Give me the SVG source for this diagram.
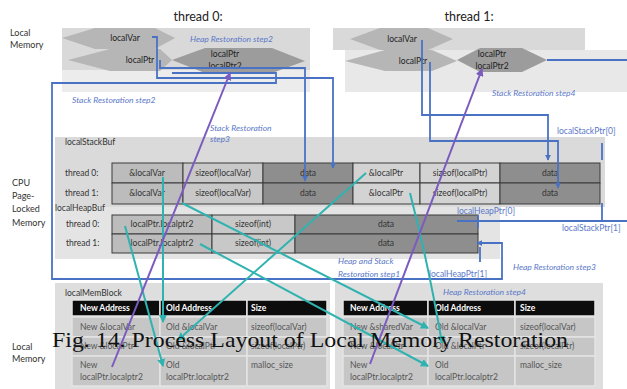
<svg xmlns="http://www.w3.org/2000/svg" width="627" height="389" viewBox="0 0 627 389">
  <defs>
    <marker id="arrowBlue" viewBox="0 0 8 8" refX="7" refY="4" markerWidth="6" markerHeight="6" markerUnits="userSpaceOnUse" orient="auto">
      <path d="M0,0 L8,4 L0,8 z" fill="#4a72c4"/>
    </marker>
    <marker id="arrowTeal" viewBox="0 0 8 8" refX="7" refY="4" markerWidth="8" markerHeight="8" markerUnits="userSpaceOnUse" orient="auto">
      <path d="M0,0 L8,4 L0,8 z" fill="#2fb3b0"/>
    </marker>
    <marker id="arrowPurple" viewBox="0 0 8 8" refX="7" refY="4" markerWidth="8" markerHeight="8" markerUnits="userSpaceOnUse" orient="auto">
      <path d="M0,0 L8,4 L0,8 z" fill="#7b5bbf"/>
    </marker>
  </defs>
  <style>
    text { font-family: Lato, "Open Sans", "Liberation Sans", sans-serif; }
    .side { font-size: 9px; fill: #333; }
    .thread { font-size: 12.5px; fill: #222; text-anchor: middle; }
    .lbl { font-size: 8.5px; fill: #333; }
    .cell { font-size: 8.5px; fill: #333; text-anchor: middle; }
    .step { font-size: 8.5px; fill: #5a78c8; font-style: italic; }
    .ptr { font-size: 8.5px; fill: #5a78c8; }
    .hex { fill: #b6b6b6; }
    .hexDark { fill: #9c9c9c; }
    .hexText { font-size: 8.5px; fill: #222; text-anchor: middle; }
    .c1 { fill: #bcbcbc; stroke: #3a3a3a; stroke-width: 1; }
    .c2 { fill: #c8c8c8; stroke: #3a3a3a; stroke-width: 1; }
    .c3 { fill: #8e8e8e; stroke: #3a3a3a; stroke-width: 1; }
    .c4 { fill: #d3d3d3; stroke: #3a3a3a; stroke-width: 1; }
    .head { fill: #0c0c0c; stroke: #e4e4e4; stroke-width: 1.5; }
    .mc { fill: #c6c6c6; stroke: #e4e4e4; stroke-width: 1.5; }
    .headText { font-size: 8.5px; fill: #fff; font-weight: bold; }
    .mText { font-size: 8.5px; fill: #555; }
    .blue { fill: none; stroke: #4a72c4; stroke-width: 1.8; }
    .teal { fill: none; stroke: #2fb3b0; stroke-width: 2; }
    .purple { fill: none; stroke: #7b5bbf; stroke-width: 2; }
    .caption { font-family: "Liberation Serif", "Times New Roman", serif; font-size: 22px; fill: #111; }
  </style>

  <rect width="627" height="389" fill="#ffffff"/>

  <!-- background panels -->
  <g id="panels">
    <rect x="62" y="28" width="248" height="42" fill="#d9d9d9"/>
    <rect x="62" y="70" width="248" height="22" fill="#ececec"/>
    <rect x="333" y="28" width="252" height="22" fill="#d9d9d9"/>
    <rect x="345" y="50" width="282" height="42" fill="#e8e8e8"/>
    <rect x="55" y="137" width="550" height="70" fill="#dadada"/>
    <rect x="55" y="207" width="445" height="52" fill="#e4e4e4"/>
    <rect x="55" y="283" width="275" height="106" fill="#dedede"/>
    <rect x="335" y="283" width="268" height="106" fill="#dedede"/>
  </g>

  <!-- side and thread titles -->
  <g id="titles">
    <text class="thread" x="198" y="21">thread 0:</text>
    <text class="thread" x="469" y="21">thread 1:</text>
    <text class="side" x="10" y="36">Local</text>
    <text class="side" x="10" y="48">Memory</text>
    <text class="side" x="12" y="186">CPU</text>
    <text class="side" x="12" y="199">Page-</text>
    <text class="side" x="12" y="212">Locked</text>
    <text class="side" x="12" y="226">Memory</text>
    <text class="side" x="12" y="350">Local</text>
    <text class="side" x="12" y="362">Memory</text>
  </g>

  <!-- thread 0 local variables -->
  <g id="t0-localVar">
    <polygon class="hex" points="62,38 95,28 155,28 175,38 155,49 95,49"/>
    <text class="hexText" x="125" y="41">localVar</text>
  </g>
  <g id="t0-localPtr">
    <polygon class="hex" points="68,60 110,49 160,49 172,60 160,71 110,71"/>
    <text class="hexText" x="140" y="63">localPtr</text>
  </g>
  <g id="t0-localPtr2">
    <polygon class="hexDark" points="172,60 205,48 272,48 305,61 272,73 205,73"/>
    <text class="hexText" x="225" y="57">localPtr</text>
    <text class="hexText" x="225" y="69">localPtr2</text>
  </g>

  <!-- thread 1 local variables -->
  <g id="t1-localVar">
    <polygon class="hex" points="350,39 380,28 428,28 453,39 428,50 380,50"/>
    <text class="hexText" x="402" y="42">localVar</text>
  </g>
  <g id="t1-localPtr">
    <polygon class="hex" points="345,61 385,50 432,50 457,61 432,71 385,71"/>
    <text class="hexText" x="413" y="64">localPtr</text>
  </g>
  <g id="t1-localPtr2">
    <polygon class="hexDark" points="457,60 480,48 522,48 547,60 522,72 480,72"/>
    <text class="hexText" x="492" y="57">localPtr</text>
    <text class="hexText" x="492" y="69">localPtr2</text>
  </g>

  <!-- stack buffer in page-locked memory -->
  <g id="localStackBuf">
    <text class="lbl" x="65" y="145">localStackBuf</text>
    <text class="lbl" x="65" y="176">thread 0:</text>
    <text class="lbl" x="65" y="196">thread 1:</text>
    <rect class="c1" x="112" y="163" width="71" height="20"/>
    <rect class="c2" x="183" y="163" width="80" height="20"/>
    <rect class="c3" x="263" y="163" width="90" height="20"/>
    <rect class="c4" x="353" y="163" width="67" height="20"/>
    <rect class="c4" x="420" y="163" width="80" height="20"/>
    <rect class="c3" x="500" y="163" width="100" height="20"/>
    <rect class="c1" x="112" y="183" width="71" height="21"/>
    <rect class="c2" x="183" y="183" width="80" height="21"/>
    <rect class="c3" x="263" y="183" width="90" height="21"/>
    <rect class="c4" x="353" y="183" width="67" height="21"/>
    <rect class="c4" x="420" y="183" width="80" height="21"/>
    <rect class="c3" x="500" y="183" width="100" height="21"/>
    <text class="cell" x="147" y="176">&amp;localVar</text>
    <text class="cell" x="223" y="176">sizeof(localVar)</text>
    <text class="cell" x="308" y="176">data</text>
    <text class="cell" x="386" y="176">&amp;localPtr</text>
    <text class="cell" x="460" y="176">sizeof(localPtr)</text>
    <text class="cell" x="550" y="176">data</text>
    <text class="cell" x="147" y="196">&amp;localVar</text>
    <text class="cell" x="223" y="196">sizeof(localVar)</text>
    <text class="cell" x="308" y="196">data</text>
    <text class="cell" x="386" y="196">&amp;localPtr</text>
    <text class="cell" x="460" y="196">sizeof(localPtr)</text>
    <text class="cell" x="550" y="196">data</text>
  </g>

  <!-- heap buffer in page-locked memory -->
  <g id="localHeapBuf">
    <text class="lbl" x="55" y="211">localHeapBuf</text>
    <text class="lbl" x="66" y="227">thread 0:</text>
    <text class="lbl" x="66" y="246">thread 1:</text>
    <rect class="c1" x="112" y="215" width="100" height="19"/>
    <rect class="c2" x="212" y="215" width="83" height="19"/>
    <rect class="c3" x="295" y="215" width="183" height="19"/>
    <rect class="c1" x="112" y="234" width="100" height="19"/>
    <rect class="c2" x="212" y="234" width="83" height="19"/>
    <rect class="c3" x="295" y="234" width="183" height="19"/>
    <text class="cell" x="162" y="227">localPtr.localptr2</text>
    <text class="cell" x="253" y="227">sizeof(int)</text>
    <text class="cell" x="386" y="227">data</text>
    <text class="cell" x="162" y="246">localPtr.localptr2</text>
    <text class="cell" x="253" y="246">sizeof(int)</text>
    <text class="cell" x="386" y="246">data</text>
  </g>

  <!-- memory block table, thread 0 -->
  <g id="localMemBlock-t0">
    <text class="lbl" x="65" y="296">localMemBlock</text>
    <rect class="head" x="72" y="300" width="88" height="16"/>
    <rect class="head" x="160" y="300" width="87" height="16"/>
    <rect class="head" x="247" y="300" width="80" height="16"/>
    <rect class="mc" x="72" y="317" width="88" height="20"/>
    <rect class="mc" x="160" y="317" width="87" height="20"/>
    <rect class="mc" x="247" y="317" width="80" height="20"/>
    <rect class="mc" x="72" y="337" width="88" height="19"/>
    <rect class="mc" x="160" y="337" width="87" height="19"/>
    <rect class="mc" x="247" y="337" width="80" height="19"/>
    <rect class="mc" x="72" y="356" width="88" height="30"/>
    <rect class="mc" x="160" y="356" width="87" height="30"/>
    <rect class="mc" x="247" y="356" width="80" height="30"/>
    <text class="headText" x="80" y="311">New Address</text>
    <text class="headText" x="166" y="311">Old Address</text>
    <text class="headText" x="251" y="311">Size</text>
    <text class="mText" x="80" y="330">New &amp;localVar</text>
    <text class="mText" x="166" y="330">Old &amp;localVar</text>
    <text class="mText" x="251" y="330">sizeof(localVar)</text>
    <text class="mText" x="80" y="349">New &amp;localPtr</text>
    <text class="mText" x="166" y="349">Old &amp;localPtr</text>
    <text class="mText" x="251" y="349">sizeof(localPtr)</text>
    <text class="mText" x="80" y="368">New</text>
    <text class="mText" x="80" y="380">localPtr.localptr2</text>
    <text class="mText" x="166" y="368">Old</text>
    <text class="mText" x="166" y="380">localPtr.localptr2</text>
    <text class="mText" x="251" y="368">malloc_size</text>
  </g>

  <!-- memory block table, thread 1 -->
  <g id="localMemBlock-t1">
    <rect class="head" x="343" y="300" width="85" height="16"/>
    <rect class="head" x="428" y="300" width="87" height="16"/>
    <rect class="head" x="515" y="300" width="80" height="16"/>
    <rect class="mc" x="343" y="317" width="85" height="20"/>
    <rect class="mc" x="428" y="317" width="87" height="20"/>
    <rect class="mc" x="515" y="317" width="80" height="20"/>
    <rect class="mc" x="343" y="337" width="85" height="19"/>
    <rect class="mc" x="428" y="337" width="87" height="19"/>
    <rect class="mc" x="515" y="337" width="80" height="19"/>
    <rect class="mc" x="343" y="356" width="85" height="30"/>
    <rect class="mc" x="428" y="356" width="87" height="30"/>
    <rect class="mc" x="515" y="356" width="80" height="30"/>
    <text class="headText" x="350" y="311">New Address</text>
    <text class="headText" x="435" y="311">Old Address</text>
    <text class="headText" x="520" y="311">Size</text>
    <text class="mText" x="350" y="330">New &amp;sharedVar</text>
    <text class="mText" x="435" y="330">Old &amp;localVar</text>
    <text class="mText" x="520" y="330">sizeof(localVar)</text>
    <text class="mText" x="350" y="349">New &amp;localPtr</text>
    <text class="mText" x="435" y="349">Old &amp;localPtr</text>
    <text class="mText" x="520" y="349">sizeof(localPtr)</text>
    <text class="mText" x="350" y="368">New</text>
    <text class="mText" x="350" y="380">localPtr.localptr2</text>
    <text class="mText" x="435" y="368">Old</text>
    <text class="mText" x="435" y="380">localPtr.localptr2</text>
    <text class="mText" x="520" y="368">malloc_size</text>
  </g>

  <!-- connectors -->
  <g id="connectors">
    <!-- stack restoration (blue) -->
    <path class="blue" d="M152,37 H157 V78 H333 V168" marker-end="url(#arrowBlue)"/>
    <path class="blue" d="M160,60 V68 H305 V181" marker-end="url(#arrowBlue)"/>
    <path class="blue" d="M422,40 V115 H548 V160" marker-end="url(#arrowBlue)"/>
    <path class="blue" d="M430,62 V141 H558 V188" marker-end="url(#arrowBlue)"/>
    <!-- heap restoration (blue) -->
    <path class="blue" d="M172,73 H276 V83 H52 V279 H502 V243 H477" marker-end="url(#arrowBlue)"/>
    <path class="blue" d="M547,60 H627"/>
    <!-- buffer pointers -->
    <path class="blue" d="M457,221 H627"/>
    <path class="blue" d="M478,215 V228"/>
    <path class="blue" d="M480,247 V262"/>
    <path class="blue" d="M602,143 V160"/>
    <path class="blue" d="M602,203 V221"/>
    <!-- address mapping (teal) -->
    <path class="teal" d="M163,177 V322" marker-end="url(#arrowTeal)"/>
    <path class="teal" d="M125,226 L163,366" marker-end="url(#arrowTeal)"/>
    <path class="teal" d="M182,203 L428,328" marker-end="url(#arrowTeal)"/>
    <path class="teal" d="M200,244 L428,366" marker-end="url(#arrowTeal)"/>
    <path class="teal" d="M366,173 L178,340" marker-end="url(#arrowTeal)"/>
    <path class="teal" d="M410,193 Q428,262 442,343" marker-end="url(#arrowTeal)"/>
    <!-- new pointer values (purple) -->
    <path class="purple" d="M112,367 L230,73" marker-end="url(#arrowPurple)"/>
    <path class="purple" d="M370,364 L482,69" marker-end="url(#arrowPurple)"/>
  </g>

  <!-- step and pointer labels -->
  <g id="labels">
    <text class="step" x="190" y="42">Heap Restoration step2</text>
    <text class="step" x="72" y="103">Stack Restoration step2</text>
    <text class="step" x="210" y="131">Stack Restoration</text>
    <text class="step" x="210" y="142">step3</text>
    <text class="step" x="492" y="96">Stack Restoration step4</text>
    <text class="ptr" x="557" y="134">localStackPtr[0]</text>
    <text class="ptr" x="457" y="214">localHeapPtr[0]</text>
    <text class="ptr" x="562" y="231">localStackPtr[1]</text>
    <text class="step" x="338" y="264">Heap and Stack</text>
    <text class="step" x="338" y="277">Restoration step1</text>
    <text class="ptr" x="429" y="277">localHeapPtr[1]</text>
    <text class="step" x="513" y="270">Heap Restoration step3</text>
    <text class="step" x="443" y="295">Heap Restoration step4</text>
  </g>

  <text class="caption" x="52" y="347" textLength="516" lengthAdjust="spacingAndGlyphs">Fig. 14. Process Layout of Local Memory Restoration</text>
</svg>
